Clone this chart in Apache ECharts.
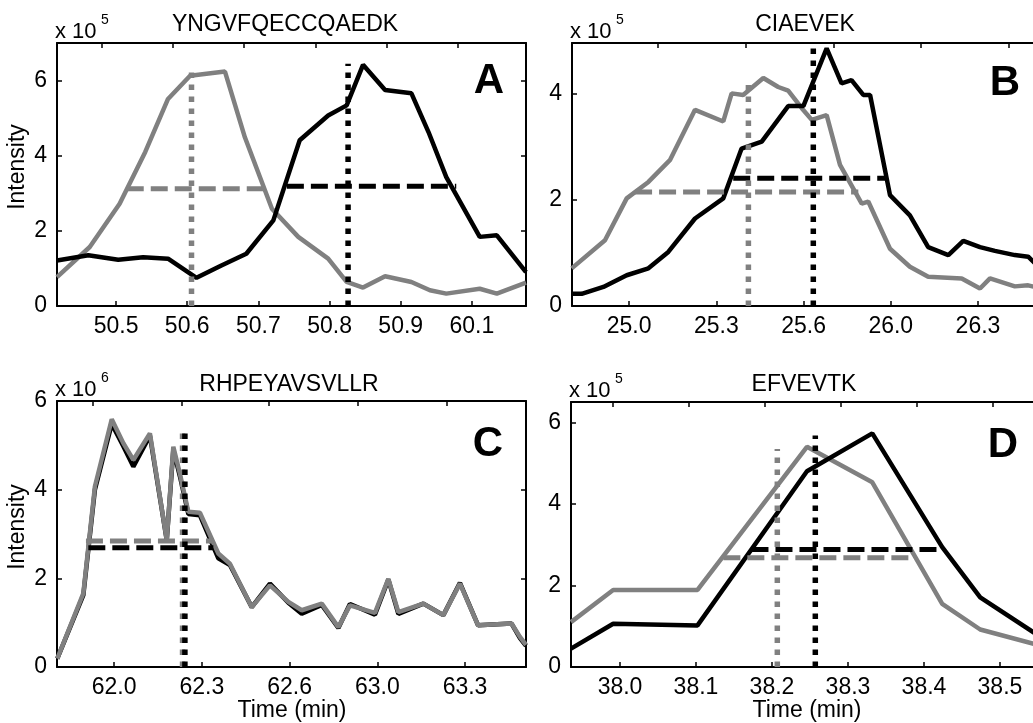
<!DOCTYPE html>
<html><head><meta charset="utf-8">
<script src="https://cdn.jsdelivr.net/npm/echarts@6/dist/echarts.min.js"></script>
<style>html,body{margin:0;padding:0;background:#fff}#c{width:1033px;height:723px}</style>
</head><body><div id="c"></div>
<script>
// ---------------- DATA ----------------
const titles = ['YNGVFQECCQAEDK', 'CIAEVEK', 'RHPEYAVSVLLR', 'EFVEVTK'];
const panelLetters = ['A', 'B', 'C', 'D'];
const exponents = ['5', '5', '6', '5'];

// Panel A
const aGrayT  = [50.417, 50.463, 50.505, 50.541, 50.573, 50.604, 50.653, 50.681, 50.719, 50.756, 50.798, 50.824, 50.847, 50.878, 50.915, 50.941, 50.964, 51.011, 51.035, 51.076];
const aGrayI  = [0.77, 1.57, 2.72, 4.10, 5.51, 6.13, 6.24, 4.49, 2.59, 1.84, 1.26, 0.64, 0.49, 0.79, 0.64, 0.42, 0.33, 0.46, 0.33, 0.62];
const aBlackT = [50.417, 50.461, 50.503, 50.538, 50.573, 50.613, 50.648, 50.683, 50.721, 50.758, 50.798, 50.824, 50.847, 50.878, 50.915, 50.939, 50.964, 51.011, 51.035, 51.076];
const aBlackI = [1.21, 1.35, 1.23, 1.30, 1.26, 0.75, 1.08, 1.39, 2.28, 4.41, 5.07, 5.34, 6.42, 5.75, 5.66, 4.63, 3.43, 1.84, 1.88, 0.90];
const aHalfGray  = [50.515, 50.707, 3.12];   // start, end, level
const aHalfBlack = [50.740, 50.978, 3.19];
const aApexGray  = [50.606, 6.22];           // time, top
const aApexBlack = [50.826, 6.45];
const aXRange = [50.417, 51.076];
const aYMax = 7;
const aTickVals = [50.5, 50.6, 50.7, 50.8, 50.9, 51.0];
const aTickLabels = ['50.5', '50.6', '50.7', '50.8', '50.9', '60.1'];
const aTopTicks = [50.48, 50.58, 50.68, 50.78, 50.88, 50.98];

// Panel B
const bGrayT  = [24.781, 24.908, 24.991, 25.074, 25.156, 25.252, 25.360, 25.392, 25.436, 25.513, 25.570, 25.608, 25.660, 25.698, 25.755, 25.806, 25.889, 25.914, 25.997, 26.073, 26.143, 26.271, 26.341, 26.379, 26.474, 26.525, 26.574];
const bGrayI  = [0.71, 1.24, 2.03, 2.34, 2.75, 3.70, 3.48, 4.01, 3.98, 4.30, 4.13, 4.06, 3.73, 3.51, 3.60, 2.66, 1.93, 1.97, 1.08, 0.74, 0.55, 0.52, 0.33, 0.52, 0.37, 0.39, 0.33];
const bBlackT = [24.781, 24.819, 24.902, 24.991, 25.074, 25.150, 25.252, 25.360, 25.430, 25.507, 25.608, 25.666, 25.755, 25.812, 25.850, 25.895, 25.921, 25.997, 26.073, 26.143, 26.220, 26.277, 26.341, 26.398, 26.474, 26.525, 26.574];
const bBlackI = [0.23, 0.23, 0.36, 0.58, 0.71, 1.02, 1.65, 2.03, 2.97, 3.10, 3.77, 3.77, 4.86, 4.20, 4.26, 3.98, 3.98, 2.09, 1.71, 1.11, 0.96, 1.23, 1.11, 1.04, 0.96, 0.93, 0.70];
const bHalfGray  = [25.023, 25.876, 2.15];
const bHalfBlack = [25.398, 25.984, 2.41];
const bApexGray  = [25.456, 4.17];
const bApexBlack = [25.704, 4.86];
const bXRange = [24.782, 26.574];
const bYMax = 4.96;
const bTickVals = [25.0, 25.3333, 25.6667, 26.0, 26.3333];
const bTickLabels = ['25.0', '25.3', '25.6', '26.0', '26.3'];
const bTopTicks = [25.111, 25.447, 25.781, 26.114, 26.452];

// Panel C
const cT      = [61.784, 61.883, 61.927, 61.991, 62.035, 62.073, 62.136, 62.200, 62.225, 62.250, 62.282, 62.326, 62.396, 62.440, 62.523, 62.592, 62.662, 62.713, 62.789, 62.852, 62.896, 62.991, 63.042, 63.080, 63.175, 63.251, 63.314, 63.383, 63.510, 63.542, 63.565];
const cGrayI  = [0.19, 1.66, 4.07, 5.59, 5.05, 4.67, 5.27, 2.86, 4.97, 4.36, 3.50, 3.48, 2.56, 2.33, 1.35, 1.84, 1.47, 1.28, 1.43, 0.90, 1.39, 1.22, 1.99, 1.24, 1.43, 1.17, 1.88, 0.94, 0.98, 0.68, 0.50];
const cBlackI = [0.19, 1.62, 4.00, 5.48, 4.98, 4.52, 5.22, 2.86, 4.90, 4.30, 3.45, 3.42, 2.45, 2.30, 1.35, 1.88, 1.45, 1.20, 1.40, 0.88, 1.42, 1.18, 1.97, 1.20, 1.43, 1.17, 1.90, 0.94, 0.98, 0.65, 0.48];
const cHalfGray  = [61.893, 62.377, 2.84];
const cHalfBlack = [61.902, 62.377, 2.69];
const cApexGray  = [62.260, 5.30];
const cApexBlack = [62.269, 5.30];
const cXRange = [61.783, 63.565];
const cYMax = 6;
const cTickVals = [62.0, 62.3333, 62.6667, 63.0, 63.3333];
const cTickLabels = ['62.0', '62.3', '62.6', '63.0', '63.3'];
const cTopTicks = [61.920, 62.258, 62.588, 62.926, 63.264];

// Panel D
const dT      = [37.9355, 37.991, 38.102, 38.246, 38.332, 38.424, 38.474, 38.554];
const dGrayI  = [1.10, 1.89, 1.89, 5.40, 4.53, 1.55, 0.92, 0.52];
const dBlackI = [0.45, 1.06, 1.02, 4.80, 5.73, 2.94, 1.71, 0.73];
const dHalfGray  = [38.136, 38.382, 2.68];
const dHalfBlack = [38.173, 38.423, 2.88];
const dApexGray  = [38.207, 5.35];
const dApexBlack = [38.257, 5.68];
const dXRange = [37.9355, 38.554];
const dYMax = 6.5;
const dTickVals = [38.0, 38.1, 38.2, 38.3, 38.4, 38.5];
const dTickLabels = ['38.0', '38.1', '38.2', '38.3', '38.4', '38.5'];
const dTopTicks = [37.99, 38.09, 38.19, 38.29, 38.39, 38.49];

const yTickVals = [0, 2, 4, 6];

// ---------------- BUILD ----------------
const FONT = '"Liberation Sans", Arial, Helvetica, sans-serif';
const GRAY = '#808080', BLACK = '#000000';
const zip = (t, v) => t.map((x, i) => [x, v[i]]);

const panels = [
  { grayT: aGrayT, grayI: aGrayI, blackT: aBlackT, blackI: aBlackI, hg: aHalfGray, hb: aHalfBlack, ag: aApexGray, ab: aApexBlack, xr: aXRange, ym: aYMax, tv: aTickVals, tl: aTickLabels, tt: aTopTicks, grayTop: false },
  { grayT: bGrayT, grayI: bGrayI, blackT: bBlackT, blackI: bBlackI, hg: bHalfGray, hb: bHalfBlack, ag: bApexGray, ab: bApexBlack, xr: bXRange, ym: bYMax, tv: bTickVals, tl: bTickLabels, tt: bTopTicks, grayTop: false },
  { grayT: cT, grayI: cGrayI, blackT: cT, blackI: cBlackI, hg: cHalfGray, hb: cHalfBlack, ag: cApexGray, ab: cApexBlack, xr: cXRange, ym: cYMax, tv: cTickVals, tl: cTickLabels, tt: cTopTicks, grayTop: true },
  { grayT: dT, grayI: dGrayI, blackT: dT, blackI: dBlackI, hg: dHalfGray, hb: dHalfBlack, ag: dApexGray, ab: dApexBlack, xr: dXRange, ym: dYMax, tv: dTickVals, tl: dTickLabels, tt: dTopTicks, grayTop: false }
];

const gridPos = [
  { left: 57, top: 43, width: 469, height: 263 },
  { left: 572, top: 43, width: 469, height: 263 },
  { left: 57, top: 401, width: 469, height: 266 },
  { left: 571, top: 402, width: 470, height: 265 }
];

const grid = [], xAxis = [], yAxis = [], series = [];
const axisLine = { show: true, lineStyle: { color: '#000', width: 2 } };
const tickStyle = { color: '#000', width: 1.5 };

panels.forEach((p, i) => {
  grid.push(Object.assign({ show: false, containLabel: false, outerBoundsMode: 'none' }, gridPos[i]));
  xAxis.push({
    type: 'value', gridIndex: i, position: 'bottom', min: p.xr[0], max: p.xr[1],
    axisLine: Object.assign({ onZero: false }, axisLine),
    axisTick: { show: true, inside: true, length: 5, lineStyle: tickStyle, customValues: p.tv },
    axisLabel: {
      show: true, margin: 9, color: '#000', fontFamily: FONT, fontSize: 23,
      customValues: p.tv, showMinLabel: true, showMaxLabel: true,
      formatter: v => { let best = -1, bd = 1e9; p.tv.forEach((t, k) => { const d = Math.abs(t - v); if (d < bd) { bd = d; best = k; } }); return bd < 0.01 ? p.tl[best] : ''; }
    },
    splitLine: { show: false }
  });
  xAxis.push({
    type: 'value', gridIndex: i, position: 'top', min: p.xr[0], max: p.xr[1],
    axisLine: Object.assign({ onZero: false }, axisLine),
    axisTick: { show: true, inside: true, length: 5, lineStyle: tickStyle, customValues: p.tt },
    axisLabel: { show: false },
    splitLine: { show: false }
  });
  const yv = yTickVals.filter(v => v <= p.ym);
  yAxis.push({
    type: 'value', gridIndex: i, position: 'left', min: 0, max: p.ym,
    axisLine: Object.assign({ onZero: false }, axisLine),
    axisTick: { show: true, inside: true, length: 5, lineStyle: tickStyle, customValues: yv },
    axisLabel: { show: true, margin: 10, color: '#000', fontFamily: FONT, fontSize: 23, customValues: yv, formatter: v => String(Math.round(v)) },
    splitLine: { show: false }
  });
  yAxis.push({
    type: 'value', gridIndex: i, position: 'right', min: 0, max: p.ym,
    axisLine: Object.assign({ onZero: false }, axisLine),
    axisTick: { show: true, inside: true, length: 5, lineStyle: tickStyle, customValues: yv },
    axisLabel: { show: false },
    splitLine: { show: false }
  });
  const xi = 2 * i, yi = 2 * i;
  const base = { type: 'line', xAxisIndex: xi, yAxisIndex: yi, showSymbol: false, symbol: 'none', silent: true, clip: true };
  const grayCurve = Object.assign({}, base, { data: zip(p.grayT, p.grayI), lineStyle: { color: GRAY, width: 4.5 } });
  const blackCurve = Object.assign({}, base, { data: zip(p.blackT, p.blackI), lineStyle: { color: BLACK, width: 4.5 } });
  if (p.grayTop) { series.push(blackCurve, grayCurve); } else { series.push(grayCurve, blackCurve); }
  // half-height (dashed)
  series.push(Object.assign({}, base, { data: [[p.hg[0], p.hg[2]], [p.hg[1], p.hg[2]]], lineStyle: { color: GRAY, width: 5, type: [17, 7] } }));
  series.push(Object.assign({}, base, { data: [[p.hb[0], p.hb[2]], [p.hb[1], p.hb[2]]], lineStyle: { color: BLACK, width: 5, type: [17, 7] } }));
  // apex (dotted)
  series.push(Object.assign({}, base, { data: [[p.ag[0], 0], [p.ag[0], p.ag[1]]], lineStyle: { color: GRAY, width: 5.5, type: [5.5, 6.5] } }));
  series.push(Object.assign({}, base, { data: [[p.ab[0], 0], [p.ab[0], p.ab[1]]], lineStyle: { color: BLACK, width: 5.5, type: [5.5, 6.5] } }));
});

// text positions
const titlePos = [[285, 25], [805, 25], [289, 385], [804, 385]];
const letterPos = [[489, 81], [1005, 83], [488, 444], [1003, 445]];
const expPos = [[55, 32], [570, 32], [55, 390], [569, 391]];

const graphic = [];
titles.forEach((t, i) => {
  graphic.push({ type: 'text', x: titlePos[i][0], y: titlePos[i][1], silent: true,
    style: { text: t, fill: '#000', font: '23px ' + FONT, textAlign: 'center', textVerticalAlign: 'middle' } });
  graphic.push({ type: 'text', x: letterPos[i][0], y: letterPos[i][1], silent: true,
    style: { text: panelLetters[i], fill: '#000', font: 'bold 42px ' + FONT, textAlign: 'center', textVerticalAlign: 'middle' } });
  graphic.push({ type: 'text', x: expPos[i][0], y: expPos[i][1], silent: true,
    style: { text: 'x 10', fill: '#000', font: '22px ' + FONT, textAlign: 'left', textVerticalAlign: 'middle' } });
  graphic.push({ type: 'text', x: expPos[i][0] + 46, y: expPos[i][1] - 12, silent: true,
    style: { text: exponents[i], fill: '#000', font: '14px ' + FONT, textAlign: 'left', textVerticalAlign: 'middle' } });
});
[[18, 167], [18, 527]].forEach(pos => {
  graphic.push({ type: 'text', x: pos[0], y: pos[1], rotation: Math.PI / 2, silent: true,
    style: { text: 'Intensity', fill: '#000', font: '23px ' + FONT, textAlign: 'center', textVerticalAlign: 'middle' } });
});
[[292, 711], [807, 711]].forEach(pos => {
  graphic.push({ type: 'text', x: pos[0], y: pos[1], silent: true,
    style: { text: 'Time (min)', fill: '#000', font: '23px ' + FONT, textAlign: 'center', textVerticalAlign: 'middle' } });
});

const chart = echarts.init(document.getElementById('c'), null, { renderer: 'canvas' });
chart.setOption({ animation: false, backgroundColor: '#fff', grid, xAxis, yAxis, series, graphic });
</script></body></html>
